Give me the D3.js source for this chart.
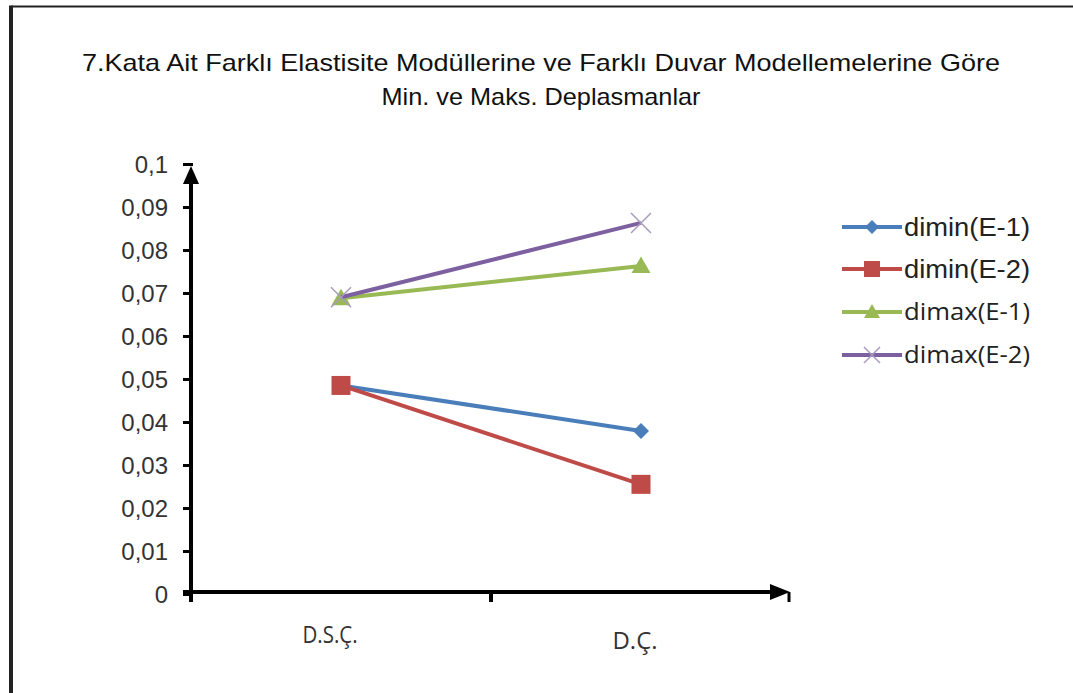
<!DOCTYPE html>
<html><head><meta charset="utf-8">
<script src="https://cdn.jsdelivr.net/npm/d3@7"></script>
<style>body{margin:0;background:#fff}svg{display:block}</style>
</head><body>
<svg id="c" width="1073" height="693"></svg>
<script>
const categories = ["D.S.Ç.", "D.Ç."];
const seriesNames = ["dimin(E-1)", "dimin(E-2)", "dimax(E-1)", "dimax(E-2)"];
const diminE1 = [0.0485, 0.0379];
const diminE2 = [0.0485, 0.0255];
const dimaxE1 = [0.0688, 0.0763];
const dimaxE2 = [0.0690, 0.0863];
const yTicks = [0, 0.01, 0.02, 0.03, 0.04, 0.05, 0.06, 0.07, 0.08, 0.09, 0.1];
const yTickLabels = ["0", "0,01", "0,02", "0,03", "0,04", "0,05", "0,06", "0,07", "0,08", "0,09", "0,1"];
const titleLines = ["7.Kata Ait Farklı Elastisite Modüllerine ve Farklı Duvar Modellemelerine Göre", "Min. ve Maks. Deplasmanlar"];

const colors = ["#4a7ebb", "#be4b48", "#98b954", "#7d60a0"];
const markers = ["diamond", "square", "triangle", "x"];
const seriesData = [diminE1, diminE2, dimaxE1, dimaxE2];

const svg = d3.select("#c");
// frame
svg.append("line").attr("x1", 11).attr("x2", 1073).attr("y1", 6.5).attr("y2", 6.5).attr("stroke", "#222").attr("stroke-width", 2);
svg.append("line").attr("x1", 11).attr("x2", 11).attr("y1", 5.5).attr("y2", 693).attr("stroke", "#222").attr("stroke-width", 4);

// title
svg.append("text").attr("x", 541).attr("y", 71).attr("text-anchor", "middle")
  .attr("font-family", "Liberation Sans, Arial, sans-serif").attr("font-size", 24).attr("fill", "#111")
  .attr("textLength", 918).attr("lengthAdjust", "spacingAndGlyphs").text(titleLines[0]);
svg.append("text").attr("x", 541).attr("y", 105).attr("text-anchor", "middle")
  .attr("font-family", "Liberation Sans, Arial, sans-serif").attr("font-size", 24).attr("fill", "#111")
  .attr("textLength", 319).attr("lengthAdjust", "spacingAndGlyphs").text(titleLines[1]);

const x = d3.scaleBand().domain(categories).range([191, 791]);
const y = d3.scaleLinear().domain([0, 0.1]).range([594, 164]);

// y axis
const yAxis = d3.axisLeft(y).tickValues(yTicks).tickFormat((d, i) => yTickLabels[i]).tickSize(8).tickSizeOuter(0);
const gy = svg.append("g").attr("transform", "translate(191,0)").call(yAxis);
gy.select(".domain").remove();
gy.selectAll(".tick line").attr("stroke", "#000").attr("stroke-width", 3).attr("x1", 2);
gy.selectAll(".tick text").attr("font-family", "Liberation Sans, Arial, sans-serif").attr("font-size", 24)
  .attr("fill", "#333").attr("x", -23).attr("dy", "0.35em");
// x axis
const xAxis = d3.axisBottom(x).tickSize(0).tickSizeOuter(0);
const gx = svg.append("g").attr("transform", "translate(0,594)").call(xAxis);
gx.select(".domain").remove();
gx.selectAll(".tick text").attr("font-family", "Open Sans, sans-serif").attr("font-size", 23).attr("fill", "#333")
  .attr("dy", 0).attr("y", 0).attr("lengthAdjust", "spacingAndGlyphs");
gx.selectAll(".tick text").filter((d, i) => i === 0).attr("y", 49).attr("x", -11).attr("textLength", 55);
gx.selectAll(".tick text").filter((d, i) => i === 1).attr("y", 55).attr("x", -6).attr("textLength", 45);
// category boundary ticks
const bounds = [x.range()[0], x(categories[1])];
svg.selectAll("line.xt").data(bounds).enter().append("line").attr("class", "xt")
  .attr("x1", d => d).attr("x2", d => d).attr("y1", 592).attr("y2", 602).attr("stroke", "#000").attr("stroke-width", 4);

// axis lines with arrows
svg.append("line").attr("x1", 191).attr("x2", 191).attr("y1", y(0) + 8).attr("y2", 182).attr("stroke", "#000").attr("stroke-width", 4);
svg.append("path").attr("d", "M191,166 L183,184 L199,184 Z").attr("fill", "#000");
svg.append("line").attr("x1", 183).attr("x2", 772).attr("y1", y(0) - 2).attr("y2", y(0) - 2).attr("stroke", "#000").attr("stroke-width", 4);
svg.append("path").attr("d", `M790,${y(0)-2} L770,${y(0)-10} L770,${y(0)+6} Z`).attr("fill", "#000");
svg.append("line").attr("x1", 789).attr("x2", 789).attr("y1", y(0) - 2).attr("y2", y(0) + 8).attr("stroke", "#000").attr("stroke-width", 3);

const cx = c => x(c) + x.bandwidth() / 2;
const line = d3.line().x((d, i) => cx(categories[i])).y(d => y(d));

function drawMarker(g, type, px, py, color, s) {
  if (type === "diamond") {
    g.append("path").attr("d", `M${px},${py - s} L${px + s},${py} L${px},${py + s} L${px - s},${py} Z`).attr("fill", color);
  } else if (type === "square") {
    g.append("rect").attr("x", px - s).attr("y", py - s).attr("width", 2 * s).attr("height", 2 * s).attr("fill", color);
  } else if (type === "triangle") {
    g.append("path").attr("d", `M${px},${py - s} L${px + s},${py + s * 0.75} L${px - s},${py + s * 0.75} Z`).attr("fill", color);
  } else {
    g.append("path").attr("d", `M${px - s},${py - s} L${px + s},${py + s} M${px - s},${py + s} L${px + s},${py - s}`)
      .attr("stroke", "#a99bbd").attr("stroke-width", 1.5).attr("fill", "none");
  }
}

const sizes = [8, 9.5, 9.5, 10];
const order = [2, 3, 0, 1];
order.forEach(si => {
  const g = svg.append("g");
  g.append("path").datum(seriesData[si]).attr("d", line).attr("fill", "none").attr("stroke", colors[si]).attr("stroke-width", 4);
  seriesData[si].forEach((v, i) => drawMarker(g, markers[si], cx(categories[i]), y(v), colors[si], sizes[si]));
});

// legend
const legY = [227, 269, 312, 355];
seriesNames.forEach((n, i) => {
  const g = svg.append("g");
  g.append("line").attr("x1", 842).attr("x2", 902).attr("y1", legY[i]).attr("y2", legY[i]).attr("stroke", colors[i]).attr("stroke-width", 4);
  drawMarker(g, markers[i], 872, legY[i], colors[i], i === 0 ? 7 : 8);
  g.append("text").attr("x", 904).attr("y", legY[i]).attr("dy", "0.35em")
    .attr("font-family", i < 2 ? "Liberation Sans, Arial, sans-serif" : "Open Sans, sans-serif")
    .attr("font-size", i < 2 ? 25 : 23).attr("fill", "#222")
    .attr("textLength", 126).attr("lengthAdjust", "spacingAndGlyphs").text(n);
});
</script>
</body></html>
